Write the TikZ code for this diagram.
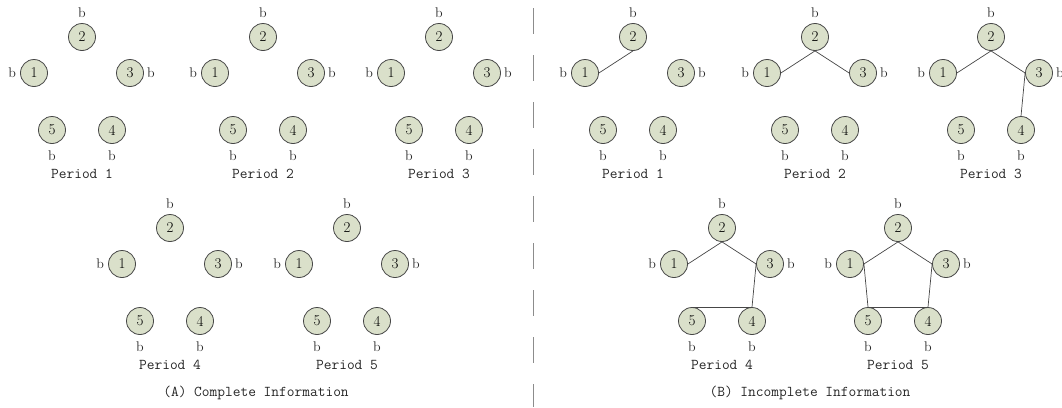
\documentclass[tikz,border=0pt]{standalone}
\usepackage{tikz}
\usetikzlibrary{positioning}
\definecolor{playerfill}{RGB}{218,224,202}
\definecolor{playerline}{RGB}{70,70,70}
\tikzset{
  player/.style={
    circle,
    draw=playerline,
    fill=playerfill,
    line width=0.8pt,
    minimum size=27pt,
    inner sep=0pt,
    font=\fontsize{15}{17}\selectfont
  },
  blabel/.style={
    inner sep=1pt,
    font=\fontsize{14}{16}\selectfont,
    text=black!85
  },
  period label/.style={
    font=\fontsize{15}{17}\selectfont\ttfamily,
    text=black!85
  },
  link/.style={
    draw=playerline,
    line width=0.7pt
  },
  divider/.style={
    draw=black!45,
    line width=1pt,
    dash pattern=on 26pt off 21pt
  }
}
% one group of five players, #1 = name prefix, #2 = period
\newcommand{\playerset}[2]{%
  \node[player, label={[blabel, label distance=4pt]above:b}] (#1n2) at (0,0) {2};
  \node[player, label={[blabel, label distance=3pt]left:b}] (#1n1) at (-48,36) {1};
  \node[player, label={[blabel, label distance=2pt]right:b}] (#1n3) at (48,36) {3};
  \node[player, label={[blabel, label distance=6pt]below:b}] (#1n5) at (-30,93) {5};
  \node[player, label={[blabel, label distance=6pt]below:b}] (#1n4) at (30,93) {4};
  \node[period label] (#1cap) at (0,137) {Period #2};
}

\begin{document}
\begin{tikzpicture}[x=1pt, y=-1pt]
  \useasboundingbox (0,0) rectangle (1062,407);

  % (A) complete information
  \begin{scope}[xshift=82pt, yshift=-37pt]
    \playerset{Aa}{1}
  \end{scope}
  \begin{scope}[xshift=263pt, yshift=-37pt]
    \playerset{Ab}{2}
  \end{scope}
  \begin{scope}[xshift=439pt, yshift=-37pt]
    \playerset{Ac}{3}
  \end{scope}
  \begin{scope}[xshift=170pt, yshift=-228pt]
    \playerset{Ad}{4}
  \end{scope}
  \begin{scope}[xshift=347pt, yshift=-228pt]
    \playerset{Ae}{5}
  \end{scope}
  \node[period label] (Atitle) at (256,393) {(A) Complete Information};

  % separator
  \coordinate (sepTop) at (533,8);
  \coordinate (sepBot) at (533,407);
  \draw[divider] (sepTop) -- (sepBot);

  % (B) incomplete information
  \begin{scope}[xshift=633pt, yshift=-37pt]
    \playerset{Ba}{1}
  \end{scope}
  \begin{scope}[xshift=815pt, yshift=-37pt]
    \playerset{Bb}{2}
  \end{scope}
  \begin{scope}[xshift=991pt, yshift=-37pt]
    \playerset{Bc}{3}
  \end{scope}
  \begin{scope}[xshift=722pt, yshift=-228pt]
    \playerset{Bd}{4}
  \end{scope}
  \begin{scope}[xshift=898pt, yshift=-228pt]
    \playerset{Be}{5}
  \end{scope}
  \node[period label] (Btitle) at (810,393) {(B) Incomplete Information};

  % links formed over time
  \draw[link] (Ban2.south) -- (Ban1.east);

  \draw[link] (Bbn2.south) -- (Bbn1.east);
  \draw[link] (Bbn2.south) -- (Bbn3.west);

  \draw[link] (Bcn2.south) -- (Bcn1.east);
  \draw[link] (Bcn2.south) -- (Bcn3.west);
  \draw[link] (Bcn3.west) -- (Bcn4.north);

  \draw[link] (Bdn2.south) -- (Bdn1.east);
  \draw[link] (Bdn2.south) -- (Bdn3.west);
  \draw[link] (Bdn3.west) -- (Bdn4.north);
  \draw[link] (Bdn4.north) -- (Bdn5.north);

  \draw[link] (Ben2.south) -- (Ben1.east);
  \draw[link] (Ben2.south) -- (Ben3.west);
  \draw[link] (Ben3.west) -- (Ben4.north);
  \draw[link] (Ben4.north) -- (Ben5.north);
  \draw[link] (Ben1.east) -- (Ben5.north);
\end{tikzpicture}
\end{document}
